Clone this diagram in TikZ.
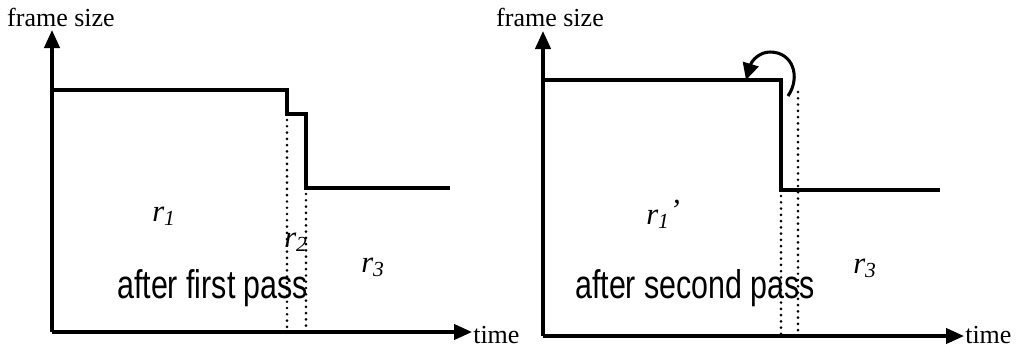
\documentclass[tikz,border=0pt]{standalone}
\usepackage{fontspec}
\setmainfont{Liberation Serif}
\newfontfamily\narrowsans[FakeStretch=0.76]{Liberation Sans}
\usetikzlibrary{arrows.meta}
\tikzset{
  axis/.style={line width=2.4pt, -{Triangle[length=13.5pt,width=11.5pt]}},
  stair/.style={line width=2.4pt, line join=miter},
  dots/.style={line width=2.2pt, line cap=round, dash pattern=on 0pt off 4.7pt},
  serif/.style={inner sep=0pt, font=\fontsize{19.5}{22}\selectfont},
  reg/.style={inner sep=0pt, anchor=base west, font=\fontsize{23}{26}\selectfont\itshape},
  pass/.style={inner sep=0pt, anchor=base west, font=\narrowsans\fontsize{30}{33}\selectfont},
  curvearrow/.style={line width=2.3pt, -{Triangle[length=12.5pt,width=12pt]}}
}
\begin{document}
\begin{tikzpicture}[x=0.75pt,y=-0.75pt]
\useasboundingbox (0,0) rectangle (1016,355);
% ---------- left plot ----------
\coordinate (LO) at (52,332);
\coordinate (LY) at (52,30);
\coordinate (LX) at (472,332);
\draw[axis] (LO) -- (LY);
\draw[axis] (LO) -- (LX);
\node[serif, anchor=base] (lfs) at (61,26) {frame size};
\node[serif, anchor=base west] (lt) at (473,343) {time};
\draw[stair] (52,90) -- (287,90) -- (287,114) -- (306,114) -- (306,188) -- (450,188);
\draw[dots] (287,120) -- (287,332);
\draw[dots] (306,194) -- (306,332);
\node[reg] (r1) at (152,221) {r\textsubscript{1}};
\node[reg] (r2) at (284,247) {r\textsubscript{2}};
\node[reg] (r3) at (361,272) {r\textsubscript{3}};
\node[pass] (p1) at (117,298) {after first pass};
% ---------- right plot ----------
\coordinate (RO) at (543,336);
\coordinate (RY) at (543,31);
\coordinate (RX) at (964,336);
\draw[axis] (RO) -- (RY);
\draw[axis] (RO) -- (RX);
\node[serif, anchor=base] (rfs) at (550,26) {frame size};
\node[serif, anchor=base west] (rt) at (965,343) {time};
\draw[stair] (543,80) -- (781,80) -- (781,190) -- (940,190);
\draw[dots] (781,196) -- (781,336);
\draw[dots] (798,92) -- (798,336);
\coordinate (cs) at (788,96);
\coordinate (ce) at (746,80);
\draw[curvearrow] (cs) .. controls (801,77) and (793,52) .. (770,52) .. controls (760,52) and (752,60) .. (ce);
\node[reg] (r1p) at (646,224) {r\textsubscript{1}\raisebox{0.12em}{’}};
\node[reg] (r3b) at (853,273) {r\textsubscript{3}};
\node[pass] (p2) at (575,298) {after second pass};
\end{tikzpicture}
\end{document}
